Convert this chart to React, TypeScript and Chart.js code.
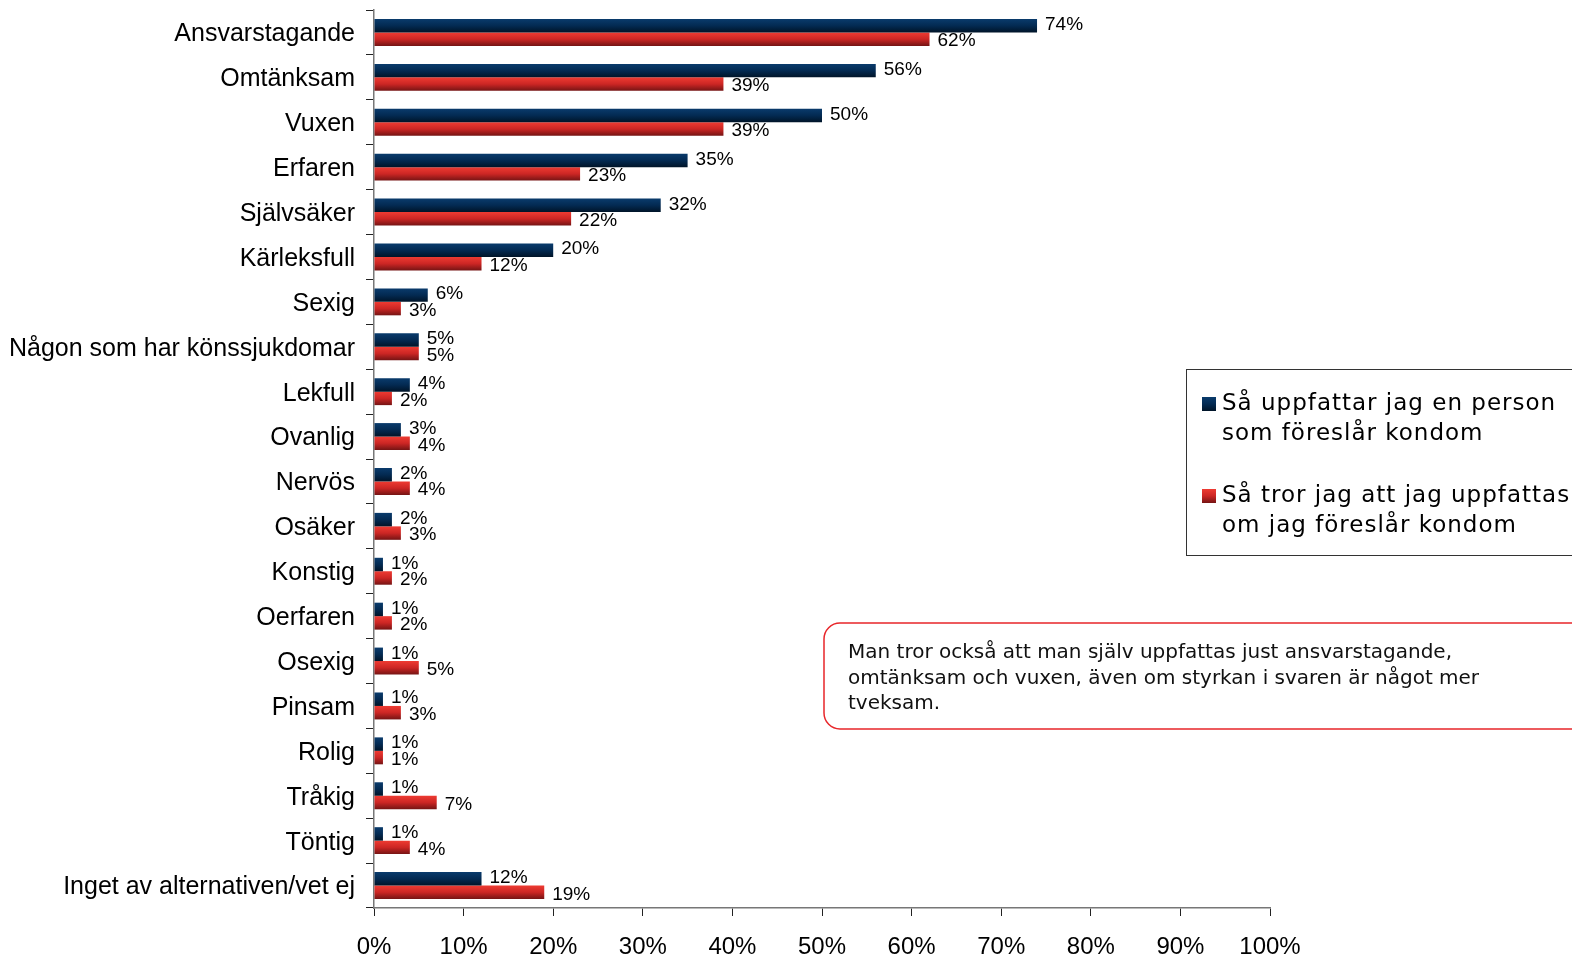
import React, { useEffect, useRef } from "react";
import { Chart, registerables } from "chart.js";

Chart.register(...registerables);

const categories = [
  "Ansvarstagande",
  "Omtänksam",
  "Vuxen",
  "Erfaren",
  "Självsäker",
  "Kärleksfull",
  "Sexig",
  "Någon som har könssjukdomar",
  "Lekfull",
  "Ovanlig",
  "Nervös",
  "Osäker",
  "Konstig",
  "Oerfaren",
  "Osexig",
  "Pinsam",
  "Rolig",
  "Tråkig",
  "Töntig",
  "Inget av alternativen/vet ej",
];

const seriesPerceive = [74, 56, 50, 35, 32, 20, 6, 5, 4, 3, 2, 2, 1, 1, 1, 1, 1, 1, 1, 12];
const seriesPerceived = [62, 39, 39, 23, 22, 12, 3, 5, 2, 4, 4, 3, 2, 2, 5, 3, 1, 7, 4, 19];

const legendLabels = [
  ["Så uppfattar jag en person", "som föreslår kondom"],
  ["Så tror jag att jag uppfattas", "om jag föreslår kondom"],
];

const noteLines = [
  "Man tror också att man själv uppfattas just ansvarstagande,",
  "omtänksam och vuxen, även om styrkan i svaren är något mer",
  "tveksam.",
];

const CAT_PCT = 0.6;
const BLUE_STOPS = ["#0a3b6c", "#032a52", "#001428"];
const RED_STOPS = ["#ee3b32", "#cc2624", "#751414"];

function makeGrad(ctx: CanvasRenderingContext2D, top: number, bottom: number, stops: string[]) {
  const g = ctx.createLinearGradient(0, top, 0, bottom);
  g.addColorStop(0, stops[0]);
  g.addColorStop(0.5, stops[1]);
  g.addColorStop(1, stops[2]);
  return g;
}

function barColor(stops: string[], di: number) {
  return (c: any) => {
    const chart = c.chart;
    const ys = chart.scales && chart.scales.y;
    if (!ys || c.type !== "data" || ys.bottom === undefined) return stops[1];
    const center = ys.getPixelForValue(c.dataIndex);
    const band = ((ys.bottom - ys.top) / categories.length) * CAT_PCT;
    const top = di === 0 ? center - band / 2 : center;
    return makeGrad(chart.ctx, top, top + band / 2, stops);
  };
}

const valueLabelPlugin = {
  id: "valueLabels",
  afterDatasetsDraw(chart: any) {
    const ctx = chart.ctx;
    ctx.save();
    ctx.font = "19px 'Liberation Sans', Arial, sans-serif";
    ctx.fillStyle = "#000";
    ctx.textBaseline = "middle";
    ctx.textAlign = "left";
    chart.data.datasets.forEach((ds: any, di: number) => {
      const meta = chart.getDatasetMeta(di);
      meta.data.forEach((el: any, i: number) => {
        ctx.fillText(ds.data[i] + "%", el.x + 8, el.y + (di === 1 ? 2 : -1));
      });
    });
    ctx.restore();
  },
};

const overlayPlugin = {
  id: "overlay",
  afterDraw(chart: any) {
    const ctx = chart.ctx;
    ctx.save();
    // Legend box
    ctx.strokeStyle = "#333";
    ctx.lineWidth = 1;
    ctx.strokeRect(1186.5, 369.5, 500, 186);
    ctx.font = "23px 'DejaVu Sans', Verdana, sans-serif";
    ctx.fillStyle = "#000";
    ctx.textBaseline = "middle";
    ctx.textAlign = "left";
    try { (ctx as any).letterSpacing = "1px"; } catch (e) {}
    const items = [
      { y: 404, stops: BLUE_STOPS },
      { y: 496, stops: RED_STOPS },
    ];
    items.forEach((it, k) => {
      ctx.fillStyle = makeGrad(ctx, it.y - 7, it.y + 7, it.stops);
      ctx.fillRect(1202, it.y - 7, 14, 14);
      ctx.fillStyle = "#000";
      ctx.fillText(legendLabels[k][0], 1222, it.y);
      ctx.fillText(legendLabels[k][1], 1222, it.y + 30);
    });
    try { (ctx as any).letterSpacing = "0px"; } catch (e) {}
    // Note box
    ctx.strokeStyle = "#e8262a";
    ctx.lineWidth = 1.5;
    ctx.beginPath();
    (ctx as any).roundRect(824, 623, 800, 106, 16);
    ctx.stroke();
    ctx.fillStyle = "#111";
    ctx.font = "20px 'DejaVu Sans', 'Liberation Sans', sans-serif";
    noteLines.forEach((t, i) => ctx.fillText(t, 848, 653 + i * 25.5));
    ctx.restore();
  },
};

export default function App() {
  const ref = useRef<HTMLCanvasElement | null>(null);
  useEffect(() => {
    document.body.style.margin = "0";
    if (!ref.current) return;
    const chart = new Chart(ref.current, {
      type: "bar",
      data: {
        labels: categories,
        datasets: [
          {
            label: legendLabels[0].join(" "),
            data: seriesPerceive,
            backgroundColor: barColor(BLUE_STOPS, 0),
            borderWidth: 0,
            barPercentage: 1,
            categoryPercentage: CAT_PCT,
          },
          {
            label: legendLabels[1].join(" "),
            data: seriesPerceived,
            backgroundColor: barColor(RED_STOPS, 1),
            borderWidth: 0,
            barPercentage: 1,
            categoryPercentage: CAT_PCT,
          },
        ],
      },
      options: {
        indexAxis: "y",
        animation: false,
        responsive: true,
        maintainAspectRatio: false,
        layout: { padding: { top: 10, right: 302, bottom: 0, left: 0 } },
        plugins: { legend: { display: false }, tooltip: { enabled: false } },
        scales: {
          x: {
            min: 0,
            max: 100,
            ticks: {
              stepSize: 10,
              callback: (v: any) => v + "%",
              font: { family: "'Liberation Sans', Arial, sans-serif", size: 24 },
              color: "#000",
              padding: 17,
              maxRotation: 0,
            },
            grid: { drawOnChartArea: false, drawTicks: true, tickLength: 8, color: "#222", lineWidth: 1 },
            border: { display: true, color: "#777", width: 1.5 },
            afterFit: (s: any) => {
              s.height = 50;
              s.paddingLeft = 0;
              s.paddingRight = 0;
              s.paddingTop = 0;
              s.paddingBottom = 0;
            },
          },
          y: {
            offset: true,
            ticks: {
              font: { family: "'Liberation Sans', Arial, sans-serif", size: 25 },
              color: "#000",
              padding: 11,
              labelOffset: 2,
              autoSkip: false,
            },
            grid: { drawOnChartArea: false, drawTicks: true, tickLength: 8, offset: true, color: "#222", lineWidth: 1 },
            border: { display: true, color: "#777", width: 1.5 },
            afterFit: (s: any) => {
              s.width = 374;
              s.paddingTop = 0;
              s.paddingBottom = 0;
              s.paddingLeft = 0;
              s.paddingRight = 0;
            },
          },
        },
      },
      plugins: [valueLabelPlugin, overlayPlugin],
    } as any);
    return () => chart.destroy();
  }, []);
  return (
    <div style={{ position: "absolute", left: 0, top: 0, width: 1572, height: 958, background: "#fff" }}>
      <canvas ref={ref} />
    </div>
  );
}
